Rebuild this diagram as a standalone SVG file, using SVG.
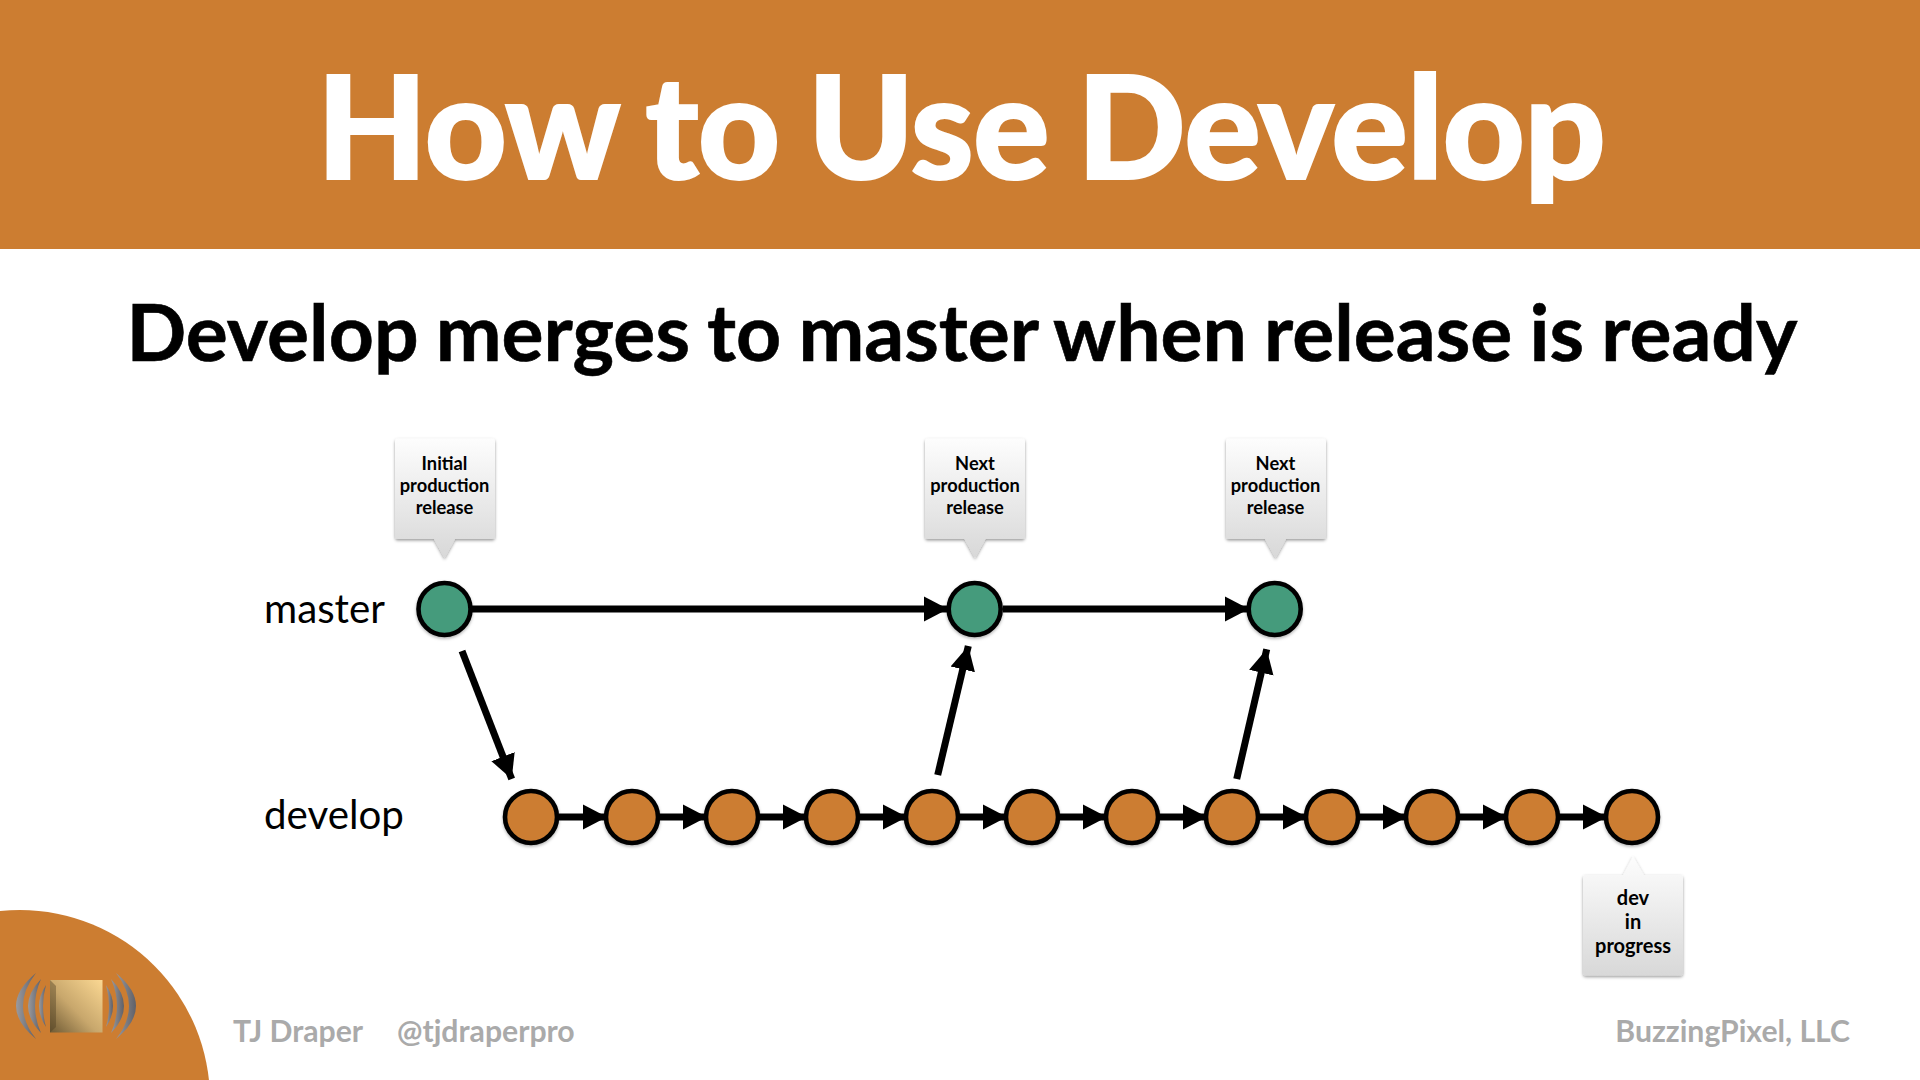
<svg xmlns="http://www.w3.org/2000/svg" width="1920" height="1080" viewBox="0 0 1920 1080">
<style>
text{font-family:Lato,"Liberation Sans",sans-serif}
.title{font-size:143px;font-weight:900;fill:#fff;stroke:#fff;stroke-width:2px;word-spacing:-5px;letter-spacing:-.8px}
.sub{font-size:78.700px;font-weight:700;fill:#000;stroke:#000;stroke-width:.6px;text-anchor:middle;word-spacing:-2px}
.lab{font-size:40.300px;fill:#000}
.call{font-size:18.300px;font-weight:700;text-anchor:middle;fill:#000}
.dev{font-size:20px}
.foot{font-size:30.200px;font-weight:700;fill:#aaa}
.m{fill:#459B7C;stroke:#000;stroke-width:4.600;filter:url(#cs)}
.d{fill:#CC7D31;stroke:#000;stroke-width:4.600;filter:url(#cs)}
.c{stroke:#000;stroke-width:7;fill:none;marker-end:url(#ah)}
.b{fill:url(#bub);filter:url(#bs)}
</style>
<defs>
<marker id="ah" markerUnits="userSpaceOnUse" markerWidth="26" markerHeight="26" refX="24" refY="13" orient="auto"><path d="M0,0.500L24,13L0,25.500Z" fill="#000"/></marker>
<linearGradient id="bub" gradientUnits="objectBoundingBox" x1="0" y1="0" x2="0" y2="1"><stop offset="0" stop-color="#fdfdfd"/><stop offset="1" stop-color="#d8d8d8"/></linearGradient>
<linearGradient id="sq" x1="0" y1="1" x2="1" y2="0"><stop offset="0" stop-color="#6f5a34"/><stop offset=".45" stop-color="#c8a76c"/><stop offset="1" stop-color="#fbd893"/></linearGradient>
<linearGradient id="arc" x1="0" y1="0" x2="1" y2="0"><stop offset="0" stop-color="#9a9a9e"/><stop offset="1" stop-color="#5f6068"/></linearGradient>
<filter id="cs" x="-20%" y="-20%" width="140%" height="140%"><feDropShadow dx="0" dy="1.500" stdDeviation="1.500" flood-color="#000" flood-opacity=".3"/></filter>
<filter id="bs" x="-10%" y="-10%" width="120%" height="125%"><feDropShadow dx="0" dy="1.500" stdDeviation="1.500" flood-color="#000" flood-opacity=".4"/></filter>
</defs>
<rect width="1920" height="1080" fill="#fff"/>
<rect width="1920" height="249" fill="#CC7D31"/>
<text class="title" x="961" y="179" text-anchor="middle">How to Use Develop</text>
<text class="sub" x="962" y="361">Develop merges to master when release is ready</text>
<text class="lab" x="264" y="623">master</text>
<text class="lab" x="264" y="829">develop</text>
<circle cx="20" cy="1100" r="190" fill="#CC7D31"/>
<g id="logo">
<rect x="50" y="980" width="52.500" height="52.500" fill="url(#sq)"/>
<path d="M50,980L56,986V1027L50,1032.500Z" fill="#4a3b20" opacity=".4"/>
<g fill="url(#arc)">
<path d="M46,985Q32,1006 46,1027Q40,1006 46,985Z"/>
<path d="M41,979Q15,1006 41,1033Q29,1006 41,979Z"/>
<path d="M36,973Q-4,1006 36,1039Q10,1006 36,973Z"/>
<path d="M106,985Q120,1006 106,1027Q112,1006 106,985Z"/>
<path d="M111,979Q137,1006 111,1033Q123,1006 111,979Z"/>
<path d="M116,973Q156,1006 116,1039Q142,1006 116,973Z"/>
</g>
</g>
<text class="foot" x="233" y="1042">TJ Draper</text>
<text class="foot" x="397" y="1042">@tjdraperpro</text>
<text class="foot" x="1850" y="1042" text-anchor="end">BuzzingPixel, LLC</text>
<g id="connectors">
<line class="c" x1="472" y1="609" x2="948" y2="609"/>
<line class="c" x1="1003" y1="609" x2="1249" y2="609"/>
<line class="c" x1="462" y1="651" x2="511.700" y2="779"/>
<line class="c" x1="937.700" y1="775" x2="968.300" y2="646"/>
<line class="c" x1="1236.700" y1="779" x2="1266.700" y2="649.300"/>
<line class="c" x1="559" y1="817" x2="607" y2="817"/>
<line class="c" x1="659" y1="817" x2="707" y2="817"/>
<line class="c" x1="759" y1="817" x2="807" y2="817"/>
<line class="c" x1="859" y1="817" x2="907" y2="817"/>
<line class="c" x1="959" y1="817" x2="1007" y2="817"/>
<line class="c" x1="1059" y1="817" x2="1107" y2="817"/>
<line class="c" x1="1159" y1="817" x2="1207" y2="817"/>
<line class="c" x1="1259" y1="817" x2="1307" y2="817"/>
<line class="c" x1="1359" y1="817" x2="1407" y2="817"/>
<line class="c" x1="1459" y1="817" x2="1507" y2="817"/>
<line class="c" x1="1559" y1="817" x2="1607" y2="817"/>
</g>
<g id="m1"><circle class="m" cx="444.500" cy="609" r="26"/></g>
<g id="m2"><circle class="m" cx="974.700" cy="609" r="26"/></g>
<g id="m3"><circle class="m" cx="1274.700" cy="609" r="26"/></g>
<g id="d1"><circle class="d" cx="531" cy="817" r="26"/></g>
<g id="d2"><circle class="d" cx="632" cy="817" r="26"/></g>
<g id="d3"><circle class="d" cx="732" cy="817" r="26"/></g>
<g id="d4"><circle class="d" cx="832" cy="817" r="26"/></g>
<g id="d5"><circle class="d" cx="932" cy="817" r="26"/></g>
<g id="d6"><circle class="d" cx="1032" cy="817" r="26"/></g>
<g id="d7"><circle class="d" cx="1132" cy="817" r="26"/></g>
<g id="d8"><circle class="d" cx="1232" cy="817" r="26"/></g>
<g id="d9"><circle class="d" cx="1332" cy="817" r="26"/></g>
<g id="d10"><circle class="d" cx="1432" cy="817" r="26"/></g>
<g id="d11"><circle class="d" cx="1532" cy="817" r="26"/></g>
<g id="d12"><circle class="d" cx="1632" cy="817" r="26"/></g>
<g id="c1"><path class="b" d="M398,438.500H492Q495,438.500 495,441.500V536Q495,539 492,539H455L444.500,558L434,539H398Q395,539 395,536V441.500Q395,438.500 398,438.500Z"/>
<text class="call" x="444.500" y="470">Initial</text><text class="call" x="444.500" y="492">production</text><text class="call" x="444.500" y="514">release</text></g>
<g id="c2"><path class="b" d="M928,438.500H1022Q1025,438.500 1025,441.500V536Q1025,539 1022,539H985.500L975,558L964.500,539H928Q925,539 925,536V441.500Q925,438.500 928,438.500Z"/>
<text class="call" x="975" y="470">Next</text><text class="call" x="975" y="492">production</text><text class="call" x="975" y="514">release</text></g>
<g id="c3"><path class="b" d="M1229,438.500H1323Q1326,438.500 1326,441.500V536Q1326,539 1323,539H1286L1275.500,558L1265,539H1229Q1226,539 1226,536V441.500Q1226,438.500 1229,438.500Z"/>
<text class="call" x="1275.500" y="470">Next</text><text class="call" x="1275.500" y="492">production</text><text class="call" x="1275.500" y="514">release</text></g>
<g id="c4"><path class="b" d="M1586,875H1623L1633,856L1644,875H1680Q1683,875 1683,878V972.500Q1683,975.500 1680,975.500H1586Q1583,975.500 1583,972.500V878Q1583,875 1586,875Z"/>
<text class="call dev" x="1633" y="905">dev</text><text class="call dev" x="1633" y="929">in</text><text class="call dev" x="1633" y="953">progress</text></g>
</svg>
